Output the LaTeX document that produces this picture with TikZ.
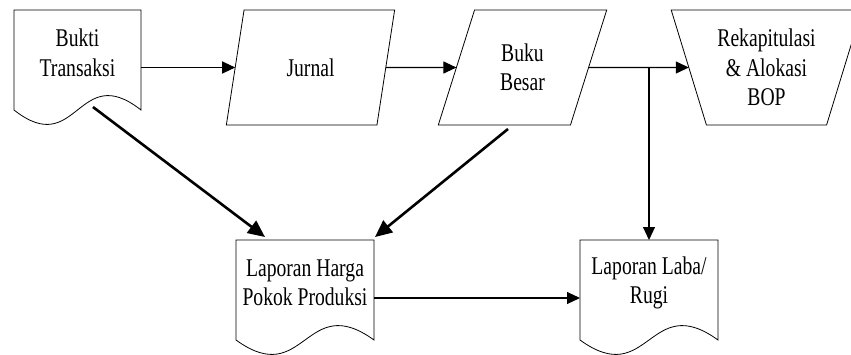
\documentclass[tikz,border=0pt]{standalone}
\usepackage{fontspec}
\setmainfont{Liberation Serif}[FakeStretch=0.77]
\usetikzlibrary{shapes.geometric,arrows.meta}

\begin{document}
\begin{tikzpicture}[x=1pt, y=-1pt,
  every node/.style={font=\fontsize{25.5}{29.5}\selectfont, align=center, inner sep=0pt, outer sep=0pt},
  doc/.style={minimum width=#1, minimum height=86pt},
  io/.style={trapezium, draw, line width=0.8pt, trapezium stretches, trapezium left angle=70.4, trapezium right angle=109.6, minimum width=169pt, minimum height=115pt},
  manual/.style={trapezium, draw, line width=0.8pt, trapezium stretches, trapezium angle=69.5, shape border rotate=180, minimum width=191pt, minimum height=115pt},
  flow/.style={-{Triangle[length=13pt,width=12pt]}, line width=1.1pt},
  bold/.style={-{Triangle[length=17pt,width=15pt]}, line width=2.6pt}]
\useasboundingbox (0,0) rectangle (851,354);
\clip (0,0) rectangle (851,354);

% Nodes
\node[doc=127pt] (bukti) at (77.5,53) {Bukti\\Transaksi};
\node[io] (jurnal) at (310.5,67.5) {Jurnal};
\node[io] (bukubesar) at (522.5,67.5) {Buku\\Besar};
\node[manual] (rekap) at (766.5,67.5) {Rekapitulasi\\\& Alokasi\\BOP};
\node[doc=138pt] (hpp) at (305,283) {Laporan Harga\\Pokok Produksi};
\node[doc=138pt] (laba) at (649,283) {Laporan Laba/\\Rugi};

%Documents
\draw[line width=0.8pt] (bukti.north west) -- (bukti.north east) -- ([yshift=-14pt]bukti.south east)
  .. controls +(-63.5,-50) and +(63.5,50) .. ([yshift=-14pt]bukti.south west) -- cycle;
\draw[line width=0.8pt] (hpp.north west) -- (hpp.north east) -- ([yshift=-14pt]hpp.south east)
  .. controls +(-69,-50) and +(69,50) .. ([yshift=-14pt]hpp.south west) -- cycle;
\draw[line width=0.8pt] (laba.north west) -- (laba.north east) -- ([yshift=-14pt]laba.south east)
  .. controls +(-69,-50) and +(69,50) .. ([yshift=-14pt]laba.south west) -- cycle;

%Lines
\draw[flow] (bukti.east |- jurnal.west) -- (jurnal.west);
\draw[flow] (jurnal.east) -- (bukubesar.west);
\draw[flow] (bukubesar.east) -- (rekap.west);
\draw[flow] (laba.north |- bukubesar.east) -- (laba.north);
\draw[flow] ([yshift=-15pt]hpp.east) -- ([yshift=-15pt]laba.west);
\draw[bold] ([xshift=15.5pt,yshift=-11pt]bukti.south) -- ([xshift=29pt,yshift=3pt]hpp.north west);
\draw[bold] ([shift={(-14.5pt,-61.5pt)}]bukubesar.center) -- ([xshift=1pt,yshift=3pt]hpp.north east);
\end{tikzpicture}
\end{document}
